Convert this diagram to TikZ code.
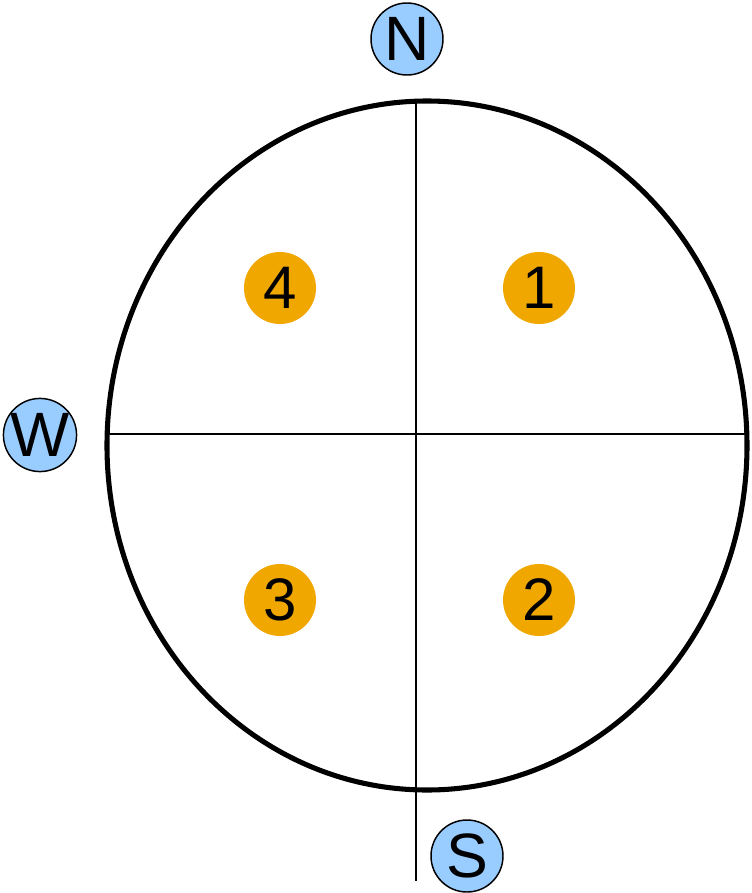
\documentclass[tikz,border=0pt]{standalone}
\usepackage{fontspec}
\setmainfont{Liberation Sans}
\definecolor{compassblue}{HTML}{99CCFF}
\definecolor{quadorange}{HTML}{F0A800}
\begin{document}
\begin{tikzpicture}[x=0.75pt,y=-0.75pt,
  compass/.style={circle,draw=black,line width=1.1pt,fill=compassblue,minimum size=54pt,inner sep=0pt,font=\fontsize{47}{47}\selectfont},
  quad/.style={circle,fill=quadorange,minimum size=54pt,inner sep=0pt,font=\fontsize{45}{45}\selectfont},
  thinline/.style={line width=1.5pt}]
\useasboundingbox (0,0) rectangle (751,893);
\draw[line width=3.8pt] (427,445.5) ellipse [x radius=320, y radius=344.5];
\coordinate (vtop) at (416,101);
\coordinate (vbot) at (416,881);
\coordinate (hl) at (107,434);
\coordinate (hr) at (748,434);
\draw[thinline] (vtop) -- (vbot);
\draw[thinline] (hl) -- (hr);
\node[compass] (N) at (407,39) {N};
\node[compass] (W) at (40,435) {W};
\node[compass] (S) at (467,856) {S};
\node[quad] (q4) at (280,288) {4};
\node[quad] (q1) at (539,288) {1};
\node[quad] (q3) at (280,600) {3};
\node[quad] (q2) at (539,600) {2};
\end{tikzpicture}
\end{document}
